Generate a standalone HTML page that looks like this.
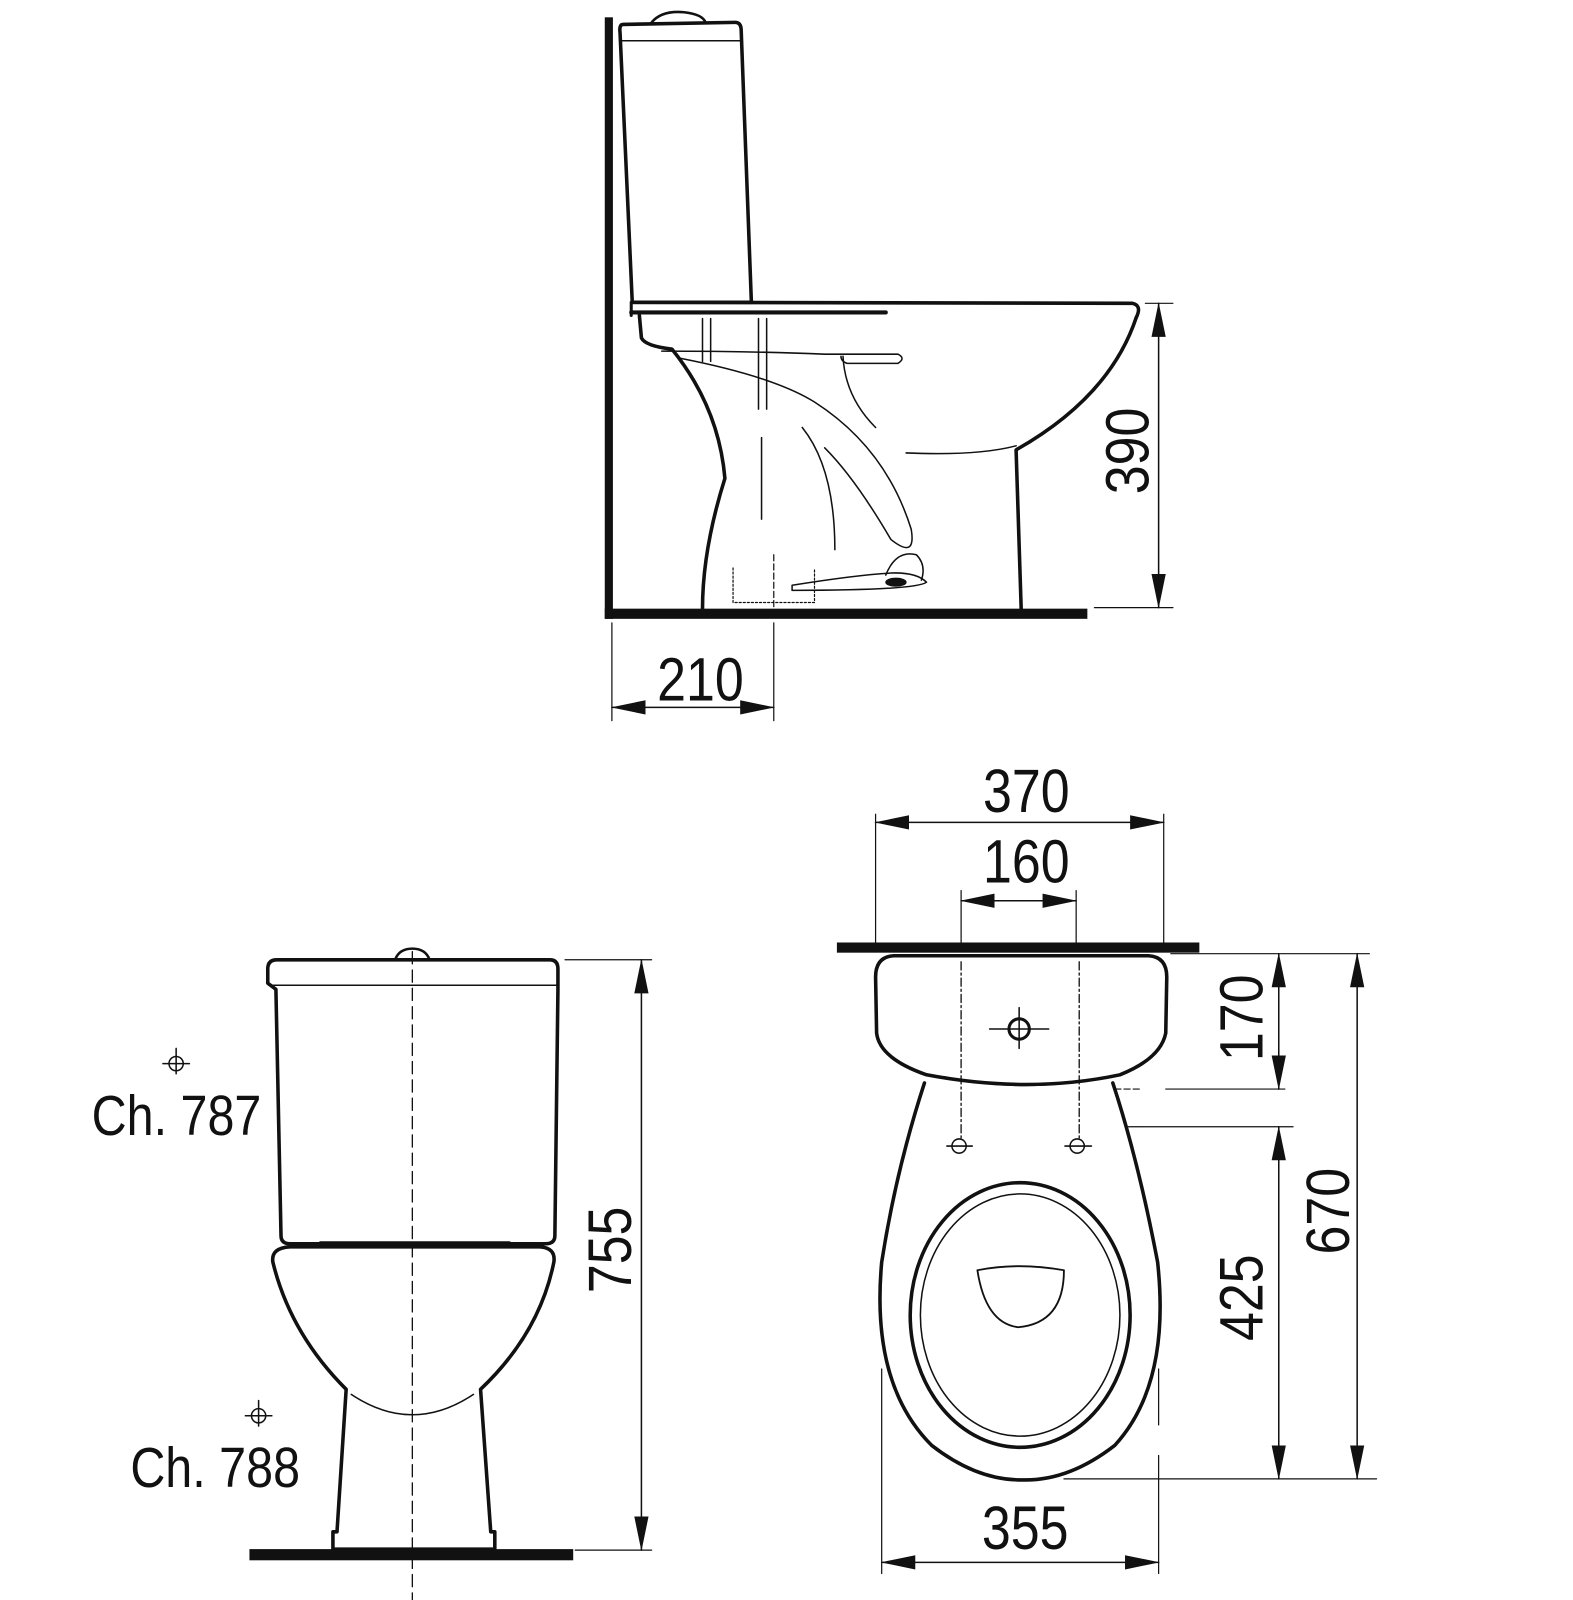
<!DOCTYPE html>
<html><head><meta charset="utf-8"><style>
html,body{margin:0;padding:0;background:#fff;}
svg{display:block;}
text{font-family:"Liberation Sans",sans-serif;fill:#111;}
</style></head><body>
<svg width="1573" height="1600" viewBox="0 0 1545 1572" preserveAspectRatio="none" xmlns="http://www.w3.org/2000/svg">
<defs>
<marker id="a" markerUnits="userSpaceOnUse" markerWidth="34" markerHeight="16" refX="33" refY="8" orient="auto-start-reverse">
<path d="M0,1 L34,8 L0,15 Z" fill="#111"/>
</marker>
</defs>
<g fill="none" stroke="#111" stroke-linecap="round" stroke-linejoin="round">

<!-- ===== SIDE VIEW ===== -->
<rect x="594" y="17" width="8" height="591" fill="#111" stroke="none"/>
<rect x="594" y="598" width="474" height="10" fill="#111" stroke="none"/>
<!-- tank -->
<path d="M640,22 Q650,10 672,12 Q690,14 693,22" stroke-width="2.5"/>
<path d="M612,24 L722,22 Q728,22 728,30 L738,297 L621,297 L609,32 Q608,24 612,24 Z" stroke-width="3.5"/>
<line x1="610" y1="40" x2="728" y2="40" stroke-width="1.5"/>
<!-- seat/lid -->
<path d="M621,297 L1112,298 Q1122,300 1116,312" stroke-width="3.5"/>
<line x1="620" y1="307" x2="870" y2="307" stroke-width="4"/>
<path d="M620,297 L620,310" stroke-width="3"/>
<!-- bowl -->
<path d="M1116,312 Q1090,390 998,442 L1003,598" stroke-width="3.5"/>
<path d="M628,310 L630,332 Q634,340 660,343 Q706,400 712,470 Q690,540 690,598" stroke-width="3.5"/>
<path d="M890,445 Q960,448 998,438" stroke-width="1.5"/>
<path d="M650,345 Q740,345 810,348 L882,348 Q890,352 882,357 L832,357 Q826,355 826,350" stroke-width="1.5"/>
<path d="M668,352 Q760,370 800,395 Q870,440 895,520 Q900,550 875,530 Q840,470 810,440" stroke-width="1.5"/>
<path d="M828,350 Q830,390 860,420" stroke-width="1.5"/>
<path d="M788,420 Q820,460 820,540" stroke-width="1.5"/>
<path d="M748,430 L748,510" stroke-width="1.5"/>
<path d="M870,565 Q880,540 900,545 Q910,555 905,570" stroke-width="1.5"/>
<path d="M690,313 L690,355 M698,313 L698,355" stroke-width="1.5"/>
<path d="M745,313 L745,402 M753,313 L753,402" stroke-width="1.5"/>
<path d="M778,575 Q840,565 875,563 Q900,562 910,572 Q900,580 778,580 Z" stroke-width="1.5"/>
<ellipse cx="880" cy="572" rx="10" ry="4" fill="#111"/>
<path d="M720,558 L720,592 L800,592 L800,558" stroke-width="1.2" stroke-dasharray="2,2"/>
<line x1="760" y1="545" x2="760" y2="598" stroke-width="1.2" stroke-dasharray="6,3"/>
<!-- 390 -->
<line x1="1125" y1="298" x2="1152" y2="298" stroke-width="1.2"/>
<line x1="1075" y1="597" x2="1152" y2="597" stroke-width="1.2"/>
<line x1="1138" y1="298" x2="1138" y2="597" stroke-width="1.5" marker-start="url(#a)" marker-end="url(#a)"/>
<!-- 210 -->
<line x1="601" y1="612" x2="601" y2="708" stroke-width="1.2"/>
<line x1="760" y1="612" x2="760" y2="708" stroke-width="1.2"/>
<line x1="601" y1="695" x2="760" y2="695" stroke-width="1.5" marker-start="url(#a)" marker-end="url(#a)"/>

<!-- ===== FRONT VIEW ===== -->
<path d="M388,943 Q392,932 405,932 Q418,932 422,943" stroke-width="2.5"/>
<path d="M272,943 L540,943 Q548,943 548,952 L548,972 L545,1214 Q545,1222 536,1222 L285,1222 Q276,1222 276,1214 L271,972 L263,966 L263,952 Q263,943 272,943 Z" stroke-width="3.5"/>
<line x1="264" y1="968" x2="548" y2="968" stroke-width="1.5"/>
<line x1="315" y1="1222" x2="500" y2="1222" stroke-width="5"/>
<path d="M285,1225 L530,1225 Q546,1226 544,1240 Q530,1310 472,1365 L482,1505 L486,1505 L486,1522 L327,1522 L327,1505 L331,1505 L340,1365 Q285,1310 268,1240 Q266,1226 285,1225 Z" stroke-width="3.5"/>
<path d="M345,1370 Q405,1410 465,1370" stroke-width="1.5"/>
<rect x="245" y="1522" width="318" height="11" fill="#111" stroke="none"/>
<line x1="405" y1="935" x2="405" y2="1572" stroke-width="1.3" stroke-dasharray="12,6"/>
<!-- 755 -->
<line x1="555" y1="943" x2="640" y2="943" stroke-width="1.2"/>
<line x1="565" y1="1523" x2="640" y2="1523" stroke-width="1.2"/>
<line x1="630" y1="943" x2="630" y2="1523" stroke-width="1.5" marker-start="url(#a)" marker-end="url(#a)"/>
<!-- crosshairs -->
<circle cx="173" cy="1045" r="7" stroke-width="1.5"/>
<path d="M173,1030 L173,1055 M160,1045 L186,1045" stroke-width="1.5"/>
<circle cx="254" cy="1391" r="7" stroke-width="1.5"/>
<path d="M254,1376 L254,1401 M241,1391 L267,1391" stroke-width="1.5"/>

<!-- ===== TOP VIEW ===== -->
<rect x="822" y="926" width="356" height="10" fill="#111" stroke="none"/>
<line x1="860" y1="800" x2="860" y2="926" stroke-width="1.2"/>
<line x1="1143" y1="800" x2="1143" y2="926" stroke-width="1.2"/>
<line x1="860" y1="808" x2="1143" y2="808" stroke-width="1.5" marker-start="url(#a)" marker-end="url(#a)"/>
<line x1="944" y1="875" x2="944" y2="926" stroke-width="1.2"/>
<line x1="1057" y1="875" x2="1057" y2="926" stroke-width="1.2"/>
<line x1="944" y1="885" x2="1057" y2="885" stroke-width="1.5" marker-start="url(#a)" marker-end="url(#a)"/>
<!-- tank top -->
<path d="M878,939 L1128,939 Q1146,940 1146,960 L1145,1015 Q1140,1040 1100,1056 Q1010,1075 910,1056 Q864,1040 861,1015 L860,960 Q860,940 878,939 Z" stroke-width="3.5"/>
<path d="M928,1058 Q1005,1075 1086,1058" stroke-width="1.5"/>
<circle cx="1001" cy="1011" r="10" stroke-width="3"/>
<path d="M1001,990 L1001,1030 M972,1011 L1030,1011" stroke-width="1.5"/>
<line x1="944" y1="945" x2="944" y2="1118" stroke-width="1.3" stroke-dasharray="8,3,2,3"/>
<line x1="1060" y1="945" x2="1060" y2="1118" stroke-width="1.3" stroke-dasharray="8,3,2,3"/>
<circle cx="942" cy="1126" r="7" stroke-width="1.5"/>
<path d="M930,1126 L955,1126" stroke-width="1.5"/>
<circle cx="1058" cy="1126" r="7" stroke-width="1.5"/>
<path d="M1046,1126 L1072,1126" stroke-width="1.5"/>
<!-- bowl -->
<path d="M908,1064 Q880,1150 866,1240 Q855,1360 915,1420 Q960,1455 1005,1454 Q1050,1455 1095,1420 Q1150,1360 1137,1240 Q1118,1140 1093,1064" stroke-width="3.5"/>
<ellipse cx="1002" cy="1292" rx="108" ry="130" stroke-width="3.5"/>
<ellipse cx="1002" cy="1292" rx="98" ry="119" stroke-width="1.5"/>
<path d="M960,1248 Q1000,1240 1045,1248 Q1045,1300 1000,1304 Q968,1300 960,1248 Z" stroke-width="1.8"/>
<!-- dims right -->
<line x1="1150" y1="937" x2="1345" y2="937" stroke-width="1.2"/>
<line x1="1145" y1="1070" x2="1262" y2="1070" stroke-width="1.2"/>
<line x1="1095" y1="1070" x2="1120" y2="1070" stroke-width="1.2" stroke-dasharray="6,3"/>
<line x1="1108" y1="1107" x2="1270" y2="1107" stroke-width="1.2"/>
<line x1="1045" y1="1453" x2="1352" y2="1453" stroke-width="1.2"/>
<line x1="1256" y1="937" x2="1256" y2="1070" stroke-width="1.5" marker-start="url(#a)" marker-end="url(#a)"/>
<line x1="1256" y1="1107" x2="1256" y2="1453" stroke-width="1.5" marker-start="url(#a)" marker-end="url(#a)"/>
<line x1="1333" y1="937" x2="1333" y2="1453" stroke-width="1.5" marker-start="url(#a)" marker-end="url(#a)"/>
<line x1="866" y1="1345" x2="866" y2="1546" stroke-width="1.2"/>
<line x1="1138" y1="1345" x2="1138" y2="1400" stroke-width="1.2"/>
<line x1="1138" y1="1430" x2="1138" y2="1546" stroke-width="1.2"/>
<line x1="866" y1="1535" x2="1138" y2="1535" stroke-width="1.5" marker-start="url(#a)" marker-end="url(#a)"/>
</g>

<g font-size="60" text-anchor="middle">
<text transform="translate(688,688) scale(0.85,1)">210</text>
<text transform="translate(1128,443) rotate(-90) scale(0.85,1)">390</text>
<text transform="translate(1008,798) scale(0.85,1)">370</text>
<text transform="translate(1008,867) scale(0.85,1)">160</text>
<text transform="translate(1007,1522) scale(0.85,1)">355</text>
<text transform="translate(1240,1000) rotate(-90) scale(0.85,1)">170</text>
<text transform="translate(1240,1275) rotate(-90) scale(0.85,1)">425</text>
<text transform="translate(1325,1190) rotate(-90) scale(0.85,1)">670</text>
<text transform="translate(620,1228) rotate(-90) scale(0.85,1)">755</text>
</g>
<g font-size="56">
<text transform="translate(90,1115) scale(0.85,1)">Ch. 787</text>
<text transform="translate(128,1461) scale(0.85,1)">Ch. 788</text>
</g>
</svg>
</body></html>
